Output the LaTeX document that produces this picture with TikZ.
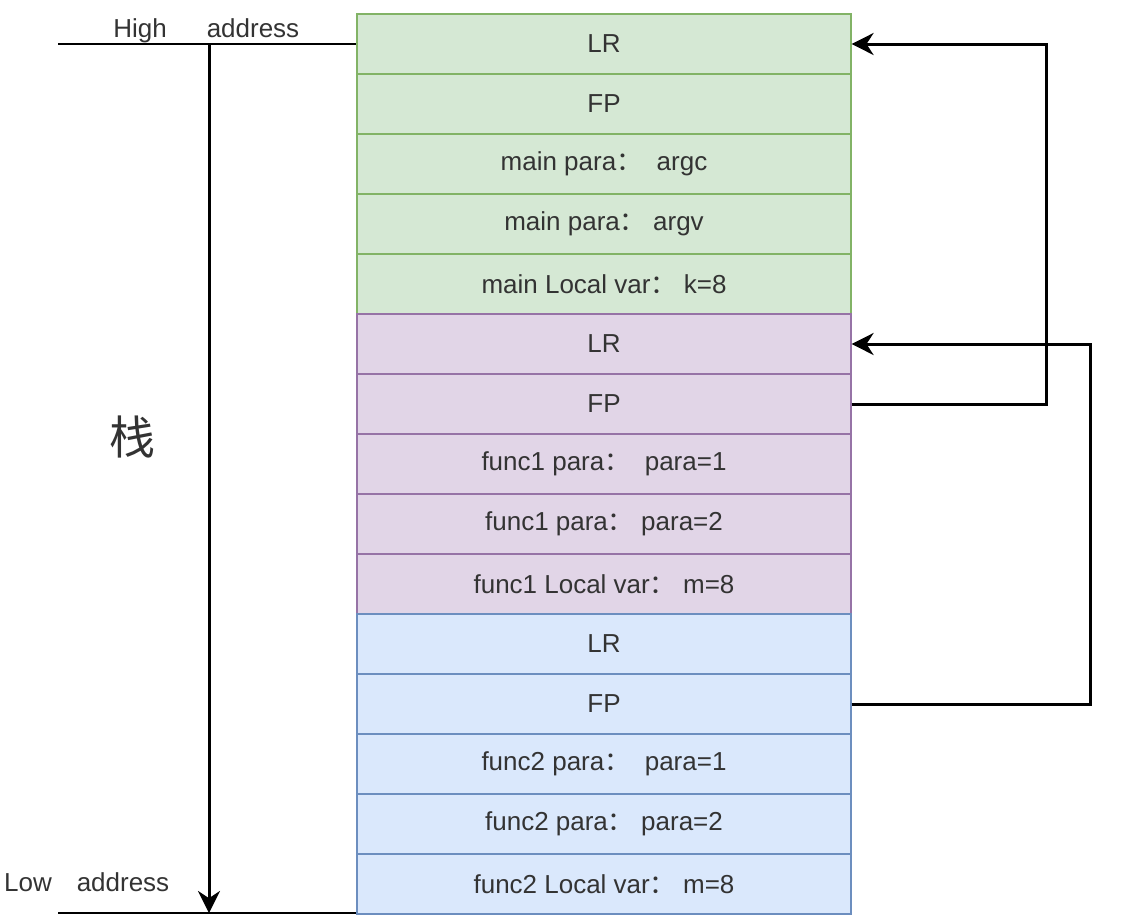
\documentclass[tikz,border=0pt]{standalone}
\usepackage{fontspec}
\setmainfont{Liberation Sans}
\newfontfamily\cjk{Noto Sans CJK SC}
\usetikzlibrary{arrows.meta}
\definecolor{gfill}{HTML}{D5E8D4}\definecolor{gline}{HTML}{82B366}
\definecolor{pfill}{HTML}{E1D5E7}\definecolor{pline}{HTML}{9673A6}
\definecolor{bfill}{HTML}{DAE8FC}\definecolor{bline}{HTML}{6C8EBF}
\definecolor{txt}{HTML}{333333}
\newcommand{\cc}{{\cjk ：}}
\tikzset{
  cell/.style={draw, line width=1.2pt, minimum width=494pt, minimum height=60pt, inner sep=0pt,
     text=txt, font=\fontsize{26}{30}\selectfont},
  grn/.style={cell, fill=gfill, draw=gline},
  pur/.style={cell, fill=pfill, draw=pline},
  blu/.style={cell, fill=bfill, draw=bline},
  lbl/.style={text=txt, font=\fontsize{26}{30}\selectfont, inner sep=0pt},
  arr/.style={line width=3pt, -{Stealth[length=22pt,width=22pt]}},
  thin/.style={line width=1.5pt, black}
}
\begin{document}
\begin{tikzpicture}[x=1pt,y=-1pt]
\useasboundingbox (0,0) rectangle (1129,922);
\node[grn] (r1) at (604,44) {LR};
\node[grn] (r2) at (604,104) {FP};
\node[grn] (r3) at (604,164) {main para\cc\ \ argc};
\node[grn] (r4) at (604,224) {main para\cc\ argv};
\node[grn] (r5) at (604,284) {main Local var\cc\ k=8};
\node[pur] (r6) at (604,344) {LR};
\node[pur] (r7) at (604,404) {FP};
\node[pur] (r8) at (604,464) {func1 para\cc\ \ para=1};
\node[pur] (r9) at (604,524) {func1 para\cc\ para=2};
\node[pur] (r10) at (604,584) {func1 Local var\cc\ m=8};
\node[blu] (r11) at (604,644) {LR};
\node[blu] (r12) at (604,704) {FP};
\node[blu] (r13) at (604,764) {func2 para\cc\ \ para=1};
\node[blu] (r14) at (604,824) {func2 para\cc\ para=2};
\node[blu] (r15) at (604,884) {func2 Local var\cc\ m=8};

\coordinate (tl) at (58,44);
\coordinate (bl) at (58,913);
\draw[thin] (tl) -- (r1.west);
\draw[thin] (bl) -- (bl -| r15.west);
\coordinate (hi) at (209,44);
\coordinate (lo) at (209,913);
\draw[arr] (hi) -- (lo);

\node[lbl, anchor=base] (high) at (140,37) {High};
\node[lbl, anchor=base] (haddr) at (253,37) {address};
\node[lbl, anchor=base] (low) at (28,891) {Low};
\node[lbl, anchor=base] (laddr) at (123,891) {address};
\node[text=txt, font=\cjk\fontsize{46}{48}\selectfont, inner sep=0pt] (zhan) at (132,437) {栈};

\draw[arr] (r7.east) -- ++(195,0) |- (r1.east);
\draw[arr] (r12.east) -- ++(239,0) |- (r6.east);
\end{tikzpicture}
\end{document}
